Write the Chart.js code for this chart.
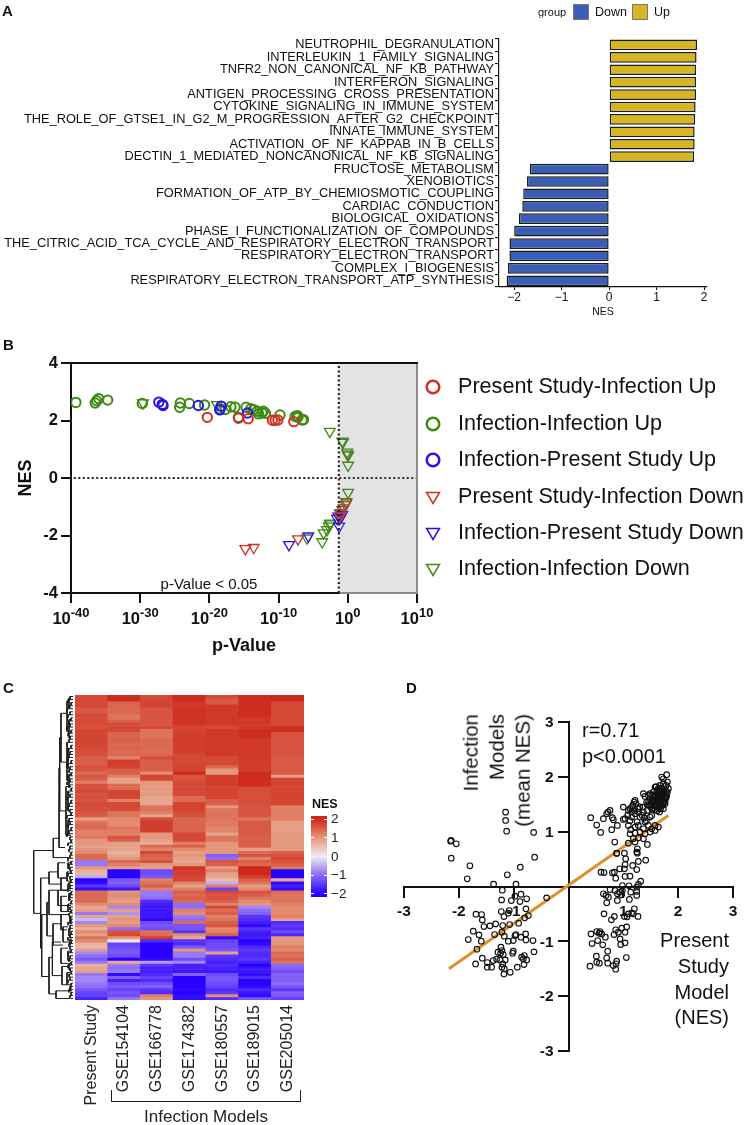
<!DOCTYPE html>
<html>
<head>
<meta charset="utf-8">
<title>NES figure</title>
<script src="https://cdn.jsdelivr.net/npm/chart.js@4/dist/chart.umd.min.js"></script>
<style>
  html,body{margin:0;padding:0;background:#fff;}
  #page{position:relative;width:747px;height:1125px;overflow:hidden;font-family:"Liberation Sans",Arial,sans-serif;color:#111;}
  #page canvas{position:absolute;}
  .t{position:absolute;left:0;top:0;white-space:nowrap;line-height:1;will-change:transform;}
  .box{position:absolute;}
</style>
</head>
<body>
<div id="page"></div>
<script>
'use strict';

// ── Panel A ──
const pathways=['NEUTROPHIL_DEGRANULATION','INTERLEUKIN_1_FAMILY_SIGNALING','TNFR2_NON_CANONICAL_NF_KB_PATHWAY','INTERFERON_SIGNALING','ANTIGEN_PROCESSING_CROSS_PRESENTATION','CYTOKINE_SIGNALING_IN_IMMUNE_SYSTEM','THE_ROLE_OF_GTSE1_IN_G2_M_PROGRESSION_AFTER_G2_CHECKPOINT','INNATE_IMMUNE_SYSTEM','ACTIVATION_OF_NF_KAPPAB_IN_B_CELLS','DECTIN_1_MEDIATED_NONCANONICAL_NF_KB_SIGNALING','FRUCTOSE_METABOLISM','XENOBIOTICS','FORMATION_OF_ATP_BY_CHEMIOSMOTIC_COUPLING','CARDIAC_CONDUCTION','BIOLOGICAL_OXIDATIONS','PHASE_I_FUNCTIONALIZATION_OF_COMPOUNDS','THE_CITRIC_ACID_TCA_CYCLE_AND_RESPIRATORY_ELECTRON_TRANSPORT','RESPIRATORY_ELECTRON_TRANSPORT','COMPLEX_I_BIOGENESIS','RESPIRATORY_ELECTRON_TRANSPORT_ATP_SYNTHESIS'];
const pathwayNes=[1.85,1.84,1.83,1.83,1.83,1.82,1.81,1.80,1.80,1.79,-1.67,-1.73,-1.81,-1.83,-1.90,-2.00,-2.10,-2.10,-2.13,-2.16];

// ── Panel B ── x is log10(p)
const presentUpP=[-20.3,-15.8,-14.4,-10.9,-10.5,-10.1,-7.8];
const presentUpNes=[2.11,2.08,2.06,2.01,2.01,2.02,1.96];
const infectionUpP=[-39.3,-36.5,-36.3,-36.0,-34.7,-29.7,-24.3,-24.2,-22.9,-20.7,-18.5,-17.7,-16.9,-16.3,-15.8,-14.7,-14,-13.6,-13.1,-12.9,-12.4,-12.2,-11.9,-9.8,-7.6,-7.3,-7.2,-6.6,-6.4];
const infectionUpNes=[2.63,2.61,2.69,2.76,2.71,2.59,2.46,2.61,2.59,2.54,2.41,2.38,2.48,2.46,2.11,2.46,2.41,2.38,2.32,2.23,2.27,2.32,2.25,2.19,2.14,2.17,2.11,2.02,2.03];
const infPresentUpP=[-27.3,-26.8,-26.7,-21.6,-18.5,-18.3,-14.5];
const infPresentUpNes=[2.64,2.56,2.52,2.52,2.37,2.5,2.26];
const presentDownP=[-14.8,-13.6,-7.2,-0.2,-0.6,-1,-1.15];
const presentDownNes=[-2.46,-2.42,-2.12,-0.87,-1.04,-1.22,-1.33];
const infPresentDownP=[-8.5,-5.7,-1.25,-1.55,-1.35,-0.8,-1.05];
const infPresentDownNes=[-2.32,-2.02,-1.68,-1.41,-1.33,-1.28,-1.37];
const infectionDownP=[-29.6,-18.9,-2.6,-0.8,-0.7,-0.1,-0.05,0.05,0.05,0.05,-0.2,-0.35,-0.8,-1.15,-2.6,-2.5,-2.75,-3,-3.5,-3.7,-5.9];
const infectionDownNes=[2.61,2.55,1.62,1.28,1.24,0.9,0.83,0.79,0.44,-0.5,-0.83,-0.93,-1.1,-1.22,-1.6,-1.57,-1.68,-1.8,-1.91,-2.22,-2.09];
const decadeTicks=[-40,-30,-20,-10,0,10];
const cutoffLogP=-1.3;

// ── Panel C ── one array per column, rows top to bottom
const heatColumns=['Present Study','GSE154104','GSE166778','GSE174382','GSE180557','GSE189015','GSE205014'];
const presentStudy=[1.7,1.7,1.7,1.7,1.55,1.55,1.7,1.65,1.7,1.7,
  1.65,1.75,1.75,1.75,1.75,1.75,1.7,1.7,1.65,1.65,
  1.5,1.5,1.5,1.65,1.6,1.4,1.6,1.5,1.2,1.65,
  1.65,1.7,1.6,1.65,1.6,1.7,1.65,1.65,1.6,1.55,
  .9,1.3,1.4,1.4,1.2,1.2,1.25,1,1,.9,
  1,1.1,1.4,1.4,-.9,-.9,1,.7,.6,-.5,
  -2,-1.9,-1.5,-1.9,1.4,1.4,1.4,1.4,1.1,.8,
  .9,-.9,.8,-.4,-.8,1,.7,1.1,.9,1.3,
  1.1,.7,.6,.9,-.8,-1,-1.2,-.9,.7,.8,
  .9,-.9,-.8,-.8,-.9,-1,-1.2,-1.4,-1.4,-1.7];
const gse154104=[1.95,1.95,1.45,1.45,1.4,1.45,1.3,1.3,1.5,1.7,
  1.7,1.7,1.45,1.45,1.5,1.45,1.4,1.45,1.4,1.4,
  1.2,1.8,1.8,1.75,1.5,1.5,1.2,.85,.85,1.4,
  1.4,1.75,1.75,1.7,1.2,1.7,1.7,1.65,1.3,1.3,
  1.1,1.1,1.1,1.3,1.2,1.2,1.6,1.5,.9,.9,
  .85,.7,.8,1,1.4,1.2,.9,-2,-2,-2,
  -1.2,-1.1,-1.3,-1.8,1,1.1,1,.9,1.1,-.8,
  .9,-.7,.9,1,.9,1.1,-1,1.6,1.7,1,
  .1,-1.4,-1.3,-1.2,-1.2,-1.3,-2,.8,-.9,-1,
  -.9,-1.9,-1.1,-1.7,-1.3,-1.2,-1.4,-1.2,-1.3,-.9];
const gse166778=[1.7,1.7,1.75,1.75,1.6,1.6,1.6,1.6,1.6,1.6,
  1.7,1.3,1.3,1.3,1.4,1.4,1.4,1.4,1.35,1.4,
  1.65,1.5,1.5,1.5,1.5,1.1,1.75,1.75,.95,.95,
  .95,.9,.95,.8,.8,.8,1.3,1.3,1.2,.8,
  1.65,1.8,1.8,1.8,1.8,1,1,.85,.75,1.4,
  1.2,1.7,1.5,1.4,1.6,1,.9,-1.3,-1.3,-1.2,
  1.2,1.3,1.5,1.2,-.9,-.9,-1,-1.6,-1.7,-1.8,
  -1.8,-1.8,-1.8,-1.9,-1.3,-1.2,-1.3,1.3,1.4,1.8,
  -1.6,-2,-2,-2,-2,-2,-1.9,-.6,-1.5,-1.7,
  -1.7,-1.6,-1.4,-1.6,-1.3,-1.1,-1.5,-1.6,1.2,1];
const gse174382=[2,1.95,1.85,1.85,1.9,1.9,1.9,1.9,1.9,1.9,
  1.75,1.75,1.8,1.8,1.8,1.8,1.8,1.8,1.8,1.7,
  1.7,1.7,1.7,1.75,1.75,2,1.6,1.6,1.7,1.7,
  1.7,1.7,1.7,1.4,1.4,1.75,1.75,1.75,1.65,1.65,
  1.45,1.45,1.45,1.45,1.45,1.7,1.7,1.7,1.2,1.5,
  1.1,.9,1,.9,.8,1,1.9,1.8,1.8,1.7,
  1.7,1.2,.9,1.2,1.5,1.4,1.5,1.4,-1,-1,
  1.2,1.1,-.9,-1,1.4,-1.2,-1.2,-1.5,1.1,.8,
  -1.5,-1.6,-1.2,1,-.9,-.9,-1.3,-.8,-1.7,-1.7,
  -1.8,-1.1,-2,-2,-2,-2,-1.9,-2,-1.9,-1.9];
const gse180557=[1.7,1.55,1.55,1.85,1.85,1.85,1.85,1.85,1.85,1.85,
  1.7,1.85,1.85,1.85,1.85,1.85,1.85,1.85,1.85,1.85,
  1.7,1.7,1.7,1.4,.95,.95,1.8,1.8,1.8,1.8,
  1.75,1.75,1.75,1.75,1.5,1.5,1,1.3,1.3,1.3,
  1.3,1.25,1.25,1.15,1.15,.85,1.3,1.3,1,1,
  1,1,-1.1,-1,1.6,1.5,.9,1.2,.9,.8,
  .6,-.5,1.2,-1.4,1.7,1.6,1.6,1.5,1.2,1.7,
  1.4,1.5,1.2,1.3,1.5,1.6,1.1,1.2,1.5,-1.9,
  -1.4,-1.3,-1.3,-1.2,.9,-1.5,-1.6,-1.7,-1.6,-1.7,
  -1.8,-1.3,-1.2,-1.2,-1.3,-1.4,-1.6,-1.5,1.1,-1.6];
const gse189015=[1.95,1.95,1.95,1.95,1.95,1.95,1.95,1.85,1.85,1.85,
  1.85,1.95,1.95,1.95,1.85,1.85,1.85,1.85,1.85,1.85,
  1.85,1.8,1.8,1.8,1.8,1.95,1.95,1.95,1.95,1.95,
  1.65,1.65,1.65,1.65,1.65,1.65,1.6,1.6,1.6,1.6,
  1.3,1.55,1.55,1.55,1.55,1.55,1.5,1.5,1.5,1.5,
  .9,1.4,1.6,1.2,1.5,1.4,2,2,2,1.8,
  1.5,1.3,.9,1.1,1.6,1.5,1.3,1.1,1,-.8,
  -1,-1.1,-1.5,-1.6,-1.7,-1.9,-1.5,-1.7,-1.8,-1.7,
  -2,-1.9,-1.6,-1.5,-1.6,-1.6,-1.5,-1.7,-2,-1.8,
  -1.8,-1.9,-1.6,-2,-2,-1.9,-1.6,-1.8,-1.9,-1.2];
const gse205014=[2,2,1.7,1.7,1.7,1.7,1.7,1.7,1.7,1.7,
  1.95,1.95,1.6,1.6,1.6,1.6,1.6,1.6,1.6,1.6,
  1.55,1.55,1.55,1.55,1.55,1.55,.9,1.75,1.75,1.75,
  1.75,1.75,1.75,1.75,1.75,1.75,1.2,1.2,1.2,1.2,
  1.2,.9,.9,.9,.9,.95,.95,.95,.95,.95,
  .95,1.5,1.6,1.7,1.6,1.5,1.3,-2.1,-2.1,-2.1,
  .8,-1.9,-1.7,-1.9,1.4,1.3,1.3,1.3,1.2,1.1,
  1.1,1.1,1.2,.9,-1.6,-1.5,-1.6,-1.3,-1.6,1,
  1,1,1.2,1.1,1.4,1.3,1.5,1.3,-1,-1.1,
  -1.3,-1.1,-1.1,-1.1,-1,-1.2,-1.5,-1.1,-1.2,-1.4];
const heatValues=[presentStudy,gse154104,gse166778,gse174382,gse180557,gse189015,gse205014];
const legendTicks=[2,1,0,-1,-2];
// dendrogram: each merge is parent height, top row, bottom row, top child height, bottom child height
const dendroMerges=[[39.3,51,71.6,19.7,32.3],[19.7,47,53.3,14,4],[14,24,50,13.3,8],[13.3,14,38,12,7],[12,6,22,6,6],[7,30,46,5,5],[6,2,12,4,4],[6,16,28,5,4],[4,1,4,2,2],[4,8,14,3,2],[5,18,24,3,3],[4,26,30,2,2],[5,32,38,3,3],[5,41,46,3,2],
  [32.3,60,83,24,31.3],[24,58,62,15,12],[15,55,60,8,5],[12,60,64,6,5],[31.3,72,92.3,26,24],[26,68,79,24,20],[24,64,72,15,12],[20,75,82,12,10],[24,86,98,20.6,17],[17,97,99.5,3,3],[20.6,81,92,12,11],[12,66,71,6,5],[15,64,69,6,5],[10,76,81,5,4],[12,72,77,5,6],[12,83,88,5,5],[11,89,95,5,6],
  [5,55,57,2,2],[6,58,61,3,3],[5,62,64,2,2],[4,65,67,2,2],[5,69,71,2,2],[3,73,75,1,1],[4,77,79,2,2],[3,80,82,1,2],[5,84,87,2,2],[4,88,90,2,2],[6,91,95,3,3],[3,96,97,1,1]];
const leafHeights=[3,5,2,4,6,3,5,2,4,3,6,2,5,3,4,6,2,5,3,4,5,2,6,3,4,2,5,3,6,4,2,5,3,6,2,4,5,3,2,6,4,3,5,2,4,6,3,2,5,3,
  4,2,3,5,2,4,3,2,5,3,2,4,3,5,2,3,4,2,5,3,2,4,3,2,5,3,4,2,3,5,2,4,3,2,5,3,4,2,5,3,2,4,3,5,2,3,4,2,3,2];

// ── Panel D ──
const presentNes=[-1.147,-1.147,-1.128,-.636,-2.15,-2.14,-2.047,-2.138,-1.798,-1.846,-.617,-.879,-1.116,-1.366,-.958,-1.207,-.976,-.867,-.763,-1.22,-1.043,-.885,-.399,-1.688,-1.585,-1.572,-1.542,-1.433,-1.329,-1.226,-1.177,-1.098,-1.08,-.776,-.733,-.8,-.909,-1.074,-1.2,-1.737,-1.633,-1.828,-1.591,-1.67,-1.347,-1.214,-1.171,-1.098,-1.007,-.976,-.958,-.867,-.782,-.776,-.648,-.63,-1.572,-1.481,-1.694,-1.481,-1.402,-1.372,-1.311,-1.287,-1.232,-1.214,-1.238,-1.19,-1.25,-1.153,-1.2,-1.171,-1.214,-1.177,-1.062,-.934,-1.007,-1.019,-.855,-.824,-.806,-.763,-.812,
  .879,1.019,1.043,1.256,1.408,1.274,1.171,1.244,1.031,1.019,.934,.837,.8,.593,.648,1.031,1.122,.861,1.317,1.274,.982,1.104,1.244,.757,.849,.982,1.135,1.244,.636,.727,.684,.697,.891,.928,.97,.891,1.11,1.244,.648,.837,.782,1.201,1.153,1.092,1.183,1.268,1.019,1.068,.514,.575,.411,.557,.605,.672,.532,.429,.624,.861,.83,.909,.97,1.062,1.031,.94,1.031,.952,.715,.508,.697,1.055,.514,.563,.392,.715,.818,.879,.867,.861,
  1.791,1.731,1.7,1.804,1.78,1.822,1.804,1.791,1.761,1.731,1.67,1.64,1.7,1.731,1.579,1.609,1.67,1.731,1.548,1.579,1.64,1.7,1.518,1.487,1.548,1.609,1.67,1.487,1.457,1.366,1.396,1.426,1.475,1.579,1.64,1.7,1.761,1.731,1.518,1.439,1.354,1.274,1.196,1.232,1.171,1.214,1.122,1.092,1,1,1.031,1.153,1.305,1.366,1.214,1.153,1.396,1.487,1.518,1.092,1.135,1.214,1.274,1.366,1.457,1.579,1.64,1.518,1.579,1.122,1.214,1.305,1.396,1.487,1.274,1.183,1.092,1.214,1.366,1.439,1.256,1.244,.843,.879,
  .405,.514,.636,.587,.757,.721,.697,.8,.788,.891,.818,
  1.60,1.62,1.65,1.68,1.71,1.74,1.77,1.79,1.63,1.66,1.69,1.72,1.75,1.78,1.58,1.61,1.64,1.67,1.7,1.73,1.76,1.55,1.59,1.62,1.66,1.69,1.72,1.52,1.56,1.6,1.64,1.68,1.5,1.54,1.58,1.62,1.66,1.46,1.5,1.44,
  1.08,1.15,1.2,1.28,1.34,1.12,1.25,1.38,1.42,1.3];
const infectionMeanNes=[1.356,1.204,1.009,.985,.827,.84,.778,.517,.377,.14,.535,.352,.213,.042,.042,-.067,-.177,-.14,-.225,-.244,-.256,-.274,-.207,-.505,-.511,-.609,-.73,-.718,-.682,-.457,-.548,-.487,-.438,-.408,-.53,-.572,-.67,-.694,-.712,-.815,-.882,-.968,-.998,-1.144,-.876,-.834,-.907,-.998,-.986,-.894,-.876,-.925,-.864,-.974,-.986,-1.192,-1.308,-1.387,-1.412,-1.472,-1.472,-1.351,-1.326,-1.199,-1.107,-1.168,-1.217,-1.241,-1.339,-1.339,-1.412,-1.503,-1.472,-1.594,-1.564,-1.472,-1.18,-1.217,-1.29,-1.32,-1.26,-1.339,-1.424,
  .602,.608,.505,.608,.481,.456,.383,.31,.401,.322,.322,.262,.25,.262,.255,.183,.189,.152,.097,.037,.018,.012,-.012,-.055,-.073,-.073,-.103,-.091,-.134,-.195,-.164,-.298,-.134,-.103,-.152,-.255,-.237,-.164,-.499,-.547,-.608,-.407,-.48,-.499,-.499,-.547,-.547,-.553,-.821,-.821,-.864,-.851,-.864,-.924,-.985,-1.04,-1.064,-.79,-.876,-.833,-.76,-.736,-.833,-.955,-1.028,-1.058,-1.18,-1.271,-1.302,-1.296,-1.381,-1.399,-1.454,-1.399,-1.441,-1.362,-1.41,-1.508,
  2.038,1.965,1.996,1.905,1.844,1.783,1.722,1.661,1.6,1.54,1.844,1.783,1.783,1.874,1.813,1.722,1.692,1.722,1.722,1.661,1.631,1.631,1.661,1.6,1.57,1.54,1.509,1.692,1.661,1.692,1.643,1.54,1.479,1.479,1.418,1.479,1.509,1.418,1.418,1.388,1.448,1.418,1.54,1.509,1.479,1.57,1.418,1.388,1.448,1.223,1.236,1.266,1.266,1.357,1.327,1.357,1.175,1.266,1.296,1.114,1.035,1.083,1.114,1.053,1.114,1.114,1.083,1.053,1.023,.962,.974,.992,.962,.992,.889,.871,.791,.81,.871,.767,.688,.627,.81,.609,
  1.254,1.12,1.236,.986,1.388,1.357,1.327,1.254,1.035,1.114,1.217,
  1.82,1.76,1.79,1.74,1.78,1.72,1.75,1.69,1.68,1.7,1.66,1.67,1.64,1.62,1.66,1.61,1.63,1.58,1.6,1.56,1.55,1.6,1.55,1.53,1.52,1.5,1.48,1.55,1.49,1.46,1.44,1.42,1.5,1.43,1.4,1.38,1.36,1.55,1.46,1.49,
  1.3,1.44,1.38,1.35,1.3,1.2,1.18,1.25,1.2,1.45];
const fitX=[-2.18,1.82];
const fitY=[-1.5,1.295];
const dTicks=[-3,-2,-1,1,2,3];

// ── helpers ──
const page=document.getElementById('page');
const SANS='"Liberation Sans",Arial,sans-serif';
Chart.defaults.font.family=SANS;
Chart.defaults.animation=false;
Chart.defaults.responsive=false;
Chart.defaults.plugins.legend.display=false;
Chart.defaults.plugins.tooltip.enabled=false;

function cv(x,y,w,h){
  const c=document.createElement('canvas');
  c.width=w;c.height=h;c.style.left=x+'px';c.style.top=y+'px';c.style.width=w+'px';c.style.height=h+'px';
  page.appendChild(c);return c.getContext('2d');
}
// text anchored at x,y: align l / c / r, rotated text runs upward
function txt(s,x,y,size,o={}){
  const d=document.createElement('div');
  d.className='t';d.textContent=s;
  d.style.fontSize=size+'px';
  if(o.bold)d.style.fontWeight='bold';
  if(o.color)d.style.color=o.color;
  const ax={l:'0',c:'-50%',r:'-100%'}[o.align||'l'];
  d.style.transform=`translate(${x}px,${y}px)${o.rot?' rotate(-90deg)':''} translate(${ax},-50%)`;
  d.style.transformOrigin='0 0';
  page.appendChild(d);
}
function box(x,y,w,h,bg,extra=''){
  const d=document.createElement('div');
  d.className='box';
  d.style.cssText=`left:${x}px;top:${y}px;width:${w}px;height:${h}px;background:${bg};${extra}`;
  page.appendChild(d);
}
const pts=(xs,ys)=>xs.map((x,i)=>({x,y:ys[i]}));

// NES colour ramp, taken from the heatmap's colour bar
const rampRGB=[[40,0,255],[141,108,246],[240,236,240],[228,150,122],[205,40,25]];
function nesColor(v){
  const t=Math.max(-2,Math.min(2,v))+2, i=Math.min(3,Math.floor(t)), f=t-i;
  const a=rampRGB[i], b=rampRGB[i+1];
  return `rgb(${a.map((c,k)=>Math.round(c+(b[k]-c)*f)).join(',')})`;
}

// ── A. bars ──
txt('A',2,10,15,{bold:true});
new Chart(cv(0,30,747,295),{type:'bar',
  data:{labels:pathways,datasets:[{data:pathwayNes,
    backgroundColor:pathwayNes.map(v=>v>0?'#D6B522':'#3A5DB5'),borderColor:'#1c1c1c',borderWidth:1.5,borderSkipped:false,
    barPercentage:0.86,categoryPercentage:1}]},
  options:{indexAxis:'y',layout:{padding:{top:7,right:40,left:0,bottom:0}},
    scales:{
      x:{min:-2.32,max:2.06,afterFit:s=>{s.height=38;},
        grid:{drawOnChartArea:false,color:'#111',tickLength:3,lineWidth:1.1},border:{color:'#111',width:1.2},
        ticks:{stepSize:1,includeBounds:false,color:'#111',font:{size:12},padding:0,maxRotation:0,callback:v=>String(v).replace('-','−')},
        title:{display:true,text:'NES',color:'#111',font:{size:10.5},padding:{top:0,bottom:7}}},
      y:{afterFit:s=>{s.width=499;},
        grid:{drawOnChartArea:false,color:'#111',tickLength:4,lineWidth:1.1},border:{color:'#111',width:1.2},
        ticks:{autoSkip:false,color:'#111',font:{size:12.8},padding:1}}
    }}});
txt('group',538,12,11);
box(573,4,14,14,'#3A5DB5','border:1px solid #777;');
txt('Down',595,12,12.5);
box(632,4,14,14,'#D6B522','border:1px solid #777;');
txt('Up',654,12,12.5);

// ── B. volcano-like scatter ──
txt('B',3,344,15,{bold:true});
const bSeries=[
  {label:'Present Study-Infection Up',xs:presentUpP,ys:presentUpNes,color:'#D42F26',tri:false},
  {label:'Infection-Infection Up',xs:infectionUpP,ys:infectionUpNes,color:'#3E8A12',tri:false},
  {label:'Infection-Present Study Up',xs:infPresentUpP,ys:infPresentUpNes,color:'#2A10EE',tri:false},
  {label:'Present Study-Infection Down',xs:presentDownP,ys:presentDownNes,color:'#D42F26',tri:true},
  {label:'Infection-Present Study Down',xs:infPresentDownP,ys:infPresentDownNes,color:'#2A10EE',tri:true},
  {label:'Infection-Infection Down',xs:infectionDownP,ys:infectionDownNes,color:'#3E8A12',tri:true}
];
const legendRowY=[387,424,460,497,533,569];
const bPlugin={id:'panelB',
  beforeDatasetDraw(chart,args){
    if(chart.data.datasets[args.index].label!=='cutoff')return;
    const {ctx,chartArea:a,scales:{x}}=chart, px=x.getPixelForValue(cutoffLogP);
    ctx.save();
    ctx.fillStyle='rgba(100,100,100,0.18)';
    ctx.fillRect(px,a.top,a.right-px,a.bottom-a.top);
    ctx.restore();
  },
  afterDraw(chart){
    const {ctx,chartArea:a,scales:{x}}=chart, px=x.getPixelForValue(cutoffLogP);
    ctx.save();
    ctx.lineWidth=2;
    ctx.strokeStyle='#111';
    ctx.beginPath();ctx.moveTo(a.left-1,a.top);ctx.lineTo(a.right+1,a.top);ctx.stroke();
    ctx.strokeStyle='#8c8c8c';
    ctx.beginPath();ctx.moveTo(a.right,a.top+1);ctx.lineTo(a.right,a.bottom);ctx.lineTo(px+1,a.bottom);ctx.stroke();
    // x tick labels with superscript exponents
    ctx.fillStyle='#111';
    ctx.textBaseline='alphabetic';
    decadeTicks.forEach(v=>{
      const tx=x.getPixelForValue(v), exp=String(v);
      ctx.font=`bold 16.5px ${SANS}`;
      const w1=ctx.measureText('10').width;
      ctx.font=`bold 13px ${SANS}`;
      const w2=ctx.measureText(exp).width, left=tx-(w1+w2)/2;
      ctx.font=`bold 16.5px ${SANS}`;
      ctx.fillText('10',left,a.bottom+31);
      ctx.font=`bold 13px ${SANS}`;
      ctx.fillText(exp,left+w1,a.bottom+24);
    });
    // legend
    bSeries.forEach((s,i)=>{
      const ly=legendRowY[i]-chart.canvas.offsetTop;
      ctx.strokeStyle=s.color;
      ctx.lineWidth=s.tri?1.5:2.5;
      ctx.beginPath();
      if(s.tri){ctx.moveTo(426.5,ly-4.5);ctx.lineTo(439.5,ly-4.5);ctx.lineTo(433,ly+6.5);ctx.closePath();}
      else ctx.arc(433,ly,6.3,0,Math.PI*2);
      ctx.stroke();
      ctx.fillStyle='#111';
      ctx.font=`21.6px ${SANS}`;
      ctx.textBaseline='middle';
      ctx.fillText(s.label,458,ly);
      ctx.textBaseline='alphabetic';
    });
    ctx.restore();
  }};
new Chart(cv(0,340,747,320),{type:'scatter',
  data:{datasets:[
    {label:'cutoff',data:pts([cutoffLogP,cutoffLogP],[-4,4]),showLine:true,pointRadius:0,borderColor:'#222',borderWidth:2.2,borderDash:[2,2.5]},
    ...[0,2,1,3,4,5].map(i=>{const s=bSeries[i];return {label:s.label,data:pts(s.xs,s.ys),pointStyle:s.tri?'triangle':'circle',rotation:s.tri?180:0,
      pointRadius:s.tri?6.2:4.7,pointBorderWidth:s.tri?1.3:2,pointBorderColor:s.color,pointBackgroundColor:'rgba(0,0,0,0)'};}),
    {label:'zero',data:pts([-39.6,10],[0,0]),showLine:true,pointRadius:0,borderColor:'#222',borderWidth:2.2,borderDash:[2,2.5]}
  ]},
  options:{layout:{padding:{top:23,right:330,left:0,bottom:0}},
    scales:{
      x:{type:'linear',min:-40,max:10,afterFit:s=>{s.height=67;},
        grid:{drawOnChartArea:false,color:'#111',tickLength:10,lineWidth:2},border:{color:'#111',width:2},
        ticks:{stepSize:10,callback:()=>''},
        title:{display:true,text:'p-Value',color:'#111',font:{size:18,weight:'bold'},padding:{top:0,bottom:3}}},
      y:{min:-4,max:4,afterFit:s=>{s.width=71;},
        grid:{drawOnChartArea:false,color:'#111',tickLength:10,lineWidth:2},border:{color:'#111',width:2},
        ticks:{stepSize:2,color:'#111',font:{size:16.5,weight:'bold'},padding:3},
        title:{display:true,text:'NES',color:'#111',font:{size:18,weight:'bold'},padding:{top:15,bottom:0}}}
    }},
  plugins:[bPlugin]});
txt('p-Value < 0.05',209,583,15,{align:'c'});

// ── C. heatmap ──
txt('C',3,687,15,{bold:true});
const dendroPoints=[];
const seg=a=>{dendroPoints.push(...a,{x:null,y:null});};
dendroMerges.forEach(m=>seg([{x:m[3],y:m[1]},{x:m[0],y:m[1]},{x:m[0],y:m[2]},{x:m[4],y:m[2]}]));
leafHeights.forEach((h,r)=>{
  const next=leafHeights[r+1];
  seg([{x:0,y:r+.5},{x:h,y:r+.5}]);
  if(next!==undefined)seg([{x:h,y:r+.5},{x:h,y:r+1.5}]);
});
new Chart(cv(28,695,45,305),{type:'scatter',
  data:{datasets:[{data:dendroPoints,showLine:true,spanGaps:false,pointRadius:0,borderColor:'#1c1c1c',borderWidth:1,clip:false}]},
  options:{scales:{x:{display:false,min:0,max:45,reverse:true},y:{display:false,min:0,max:100,reverse:true}}}});

const heatRows=presentStudy.map((_,r)=>({
  data:heatColumns.map(()=>1),
  backgroundColor:heatValues.map(col=>nesColor(col[r])),
  borderWidth:0,barPercentage:1,categoryPercentage:1
}));
new Chart(cv(60,690,260,420),{type:'bar',
  data:{labels:heatColumns,datasets:heatRows},
  options:{layout:{padding:{top:5,left:15,right:16,bottom:0}},
    scales:{
      x:{stacked:true,afterFit:s=>{s.height=110;},grid:{display:false,drawTicks:false},border:{display:false},
        ticks:{autoSkip:false,minRotation:90,maxRotation:90,color:'#222',font:{size:16},padding:5}},
      y:{stacked:true,display:false,min:0,max:100,reverse:true}
    }}});
box(111,1090,190,12,'transparent','border:1px solid #222;border-top:none;box-sizing:border-box;');
txt('Infection Models',206,1116,17,{align:'c',color:'#222'});
txt('NES',312,804,12.5,{bold:true});
box(311,816,16,81,`linear-gradient(to bottom,${nesColor(2)} 0%,${nesColor(2)} 3.7%,${nesColor(1)} 27%,${nesColor(0)} 50%,${nesColor(-1)} 73%,${nesColor(-2)} 96%,${nesColor(-2)} 100%)`);
legendTicks.forEach((v,i)=>{
  const y=819+i*18.7;
  box(311,y-.5,3,1,'#fff');box(324,y-.5,3,1,'#fff');
  txt(String(v).replace('-','−'),331,y,13.5,{color:'#222'});
});

// ── D. correlation ──
txt('D',406,687,15,{bold:true});
const hideZero=v=>v===0?'':String(v);
// y tick labels sit left of the crossing axis; the built-in ones do not when the axis is at x=0
const dPlugin={id:'panelD',
  beforeDatasetsDraw(chart){
    const {ctx,scales:{x,y}}=chart;
    ctx.save();
    ctx.fillStyle='#111';
    ctx.font=`bold 15.5px ${SANS}`;
    ctx.textAlign='right';
    ctx.textBaseline='middle';
    dTicks.forEach(v=>ctx.fillText(String(v),x.getPixelForValue(0)-15,y.getPixelForValue(v)+1));
    ctx.restore();
  }};
new Chart(cv(385,700,362,400),{type:'scatter',
  data:{datasets:[
    {data:pts(presentNes,infectionMeanNes),pointRadius:2.8,pointBorderWidth:1.15,pointBorderColor:'#111',pointBackgroundColor:'rgba(0,0,0,0)'},
    {data:pts(fitX,fitY),showLine:true,pointRadius:0,borderColor:'#E0902B',borderWidth:3}
  ]},
  options:{layout:{padding:{top:22,left:19,right:14,bottom:49}},
    scales:{
      x:{type:'linear',min:-3,max:3,position:{y:0},
        grid:{drawOnChartArea:false,color:'#111',tickLength:10,lineWidth:2},border:{color:'#111',width:2},
        ticks:{stepSize:1,color:'#111',font:{size:15.5,weight:'bold'},padding:6,maxRotation:0,callback:hideZero}},
      y:{min:-3,max:3,position:{x:0},
        grid:{drawOnChartArea:false,color:'#111',tickLength:10,lineWidth:2},border:{color:'#111',width:2},
        ticks:{stepSize:1,callback:()=>''}}
    }},
  plugins:[dPlugin]});
txt('r=0.71',582,730,20);
txt('p<0.0001',582,756,20);
txt('Infection',471,714,20.5,{rot:true,align:'r'});
txt('Models',497,714,20.5,{rot:true,align:'r'});
txt('(mean NES)',523,714,20.5,{rot:true,align:'r'});
txt('Present',729,940,20,{align:'r'});
txt('Study',729,966,20,{align:'r'});
txt('Model',729,992,20,{align:'r'});
txt('(NES)',729,1017,20,{align:'r'});
</script>
</body>
</html>
